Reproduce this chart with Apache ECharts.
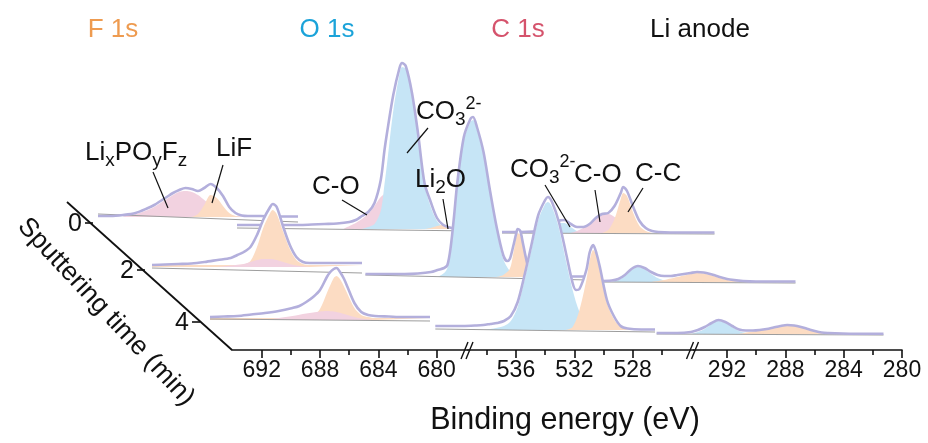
<!DOCTYPE html>
<html>
<head>
<meta charset="utf-8">
<script src="https://cdn.jsdelivr.net/npm/echarts@6/dist/echarts.min.js"></script>
<style>
  html, body { margin: 0; padding: 0; background: #ffffff; }
  #chart { width: 928px; height: 443px; }
</style>
</head>
<body>
<div id="chart"></div>
<script>
// ---------------------------------------------------------------
// XPS depth profile of a Li anode: F 1s, O 1s and C 1s spectra
// after 0, 2 and 4 min of Ar+ sputtering (intensity in a.u.,
// binding energy in eV). Each array holds [BE, intensity] pairs.
// ---------------------------------------------------------------

// ---- 0 min ----
const F0_total = [[694,1],[693,1],[692,2],[691,4],[690,9],[689.5,12],[689,16],[688.5,20],[688,24],[687.5,27],[687,29],[686.5,28],[686,26],[685.5,29],[685,33],[684.5,29],[684,21],[683.5,10],[683,4],[682.5,1.5],[682,1],[681,1],[680,0.5],[679,0.5],[678,0.5]];
const F0_LiPOF = [[692,0.5],[691,3],[690,7],[689.5,10],[689,14],[688.5,18],[688,22],[687.5,25],[687,26],[686.5,25],[686,22],[685.5,17],[685,12],[684.5,7],[684,4],[683.5,2],[683,1],[682,0]];
const F0_LiF = [[686.5,0],[686,3],[685.5,12],[685,22],[684.5,19],[684,11],[683.5,4],[683,1],[682.5,0]];
const F0_bg = [[694,3],[678,-5]];

const O0_total = [[545,4],[544,4],[543,4],[542,4],[541,4],[540,4],[539,4.5],[538,5],[537,5.5],[536,7],[535.5,9],[535,13],[534.5,17],[534,26],[533.5,49],[533.2,79],[533,96],[532.5,134],[532,161],[531.8,166],[531.5,163],[531,136],[530.5,94],[530,46],[529.5,27],[529,11],[528.5,4],[528,1.5],[527.5,0.5],[526,0.5]];
const O0_CO = [[536.5,0],[536,3],[535.5,6],[535,10],[534.5,15],[534,23],[533.5,32],[533,36],[532.5,32],[532,22],[531.5,12],[531,5],[530.5,1],[530,0]];
const O0_CO3 = [[535,0],[534.5,2],[534,5],[533.5,18],[533.2,45],[533,65],[532.5,118],[532,155],[531.8,162],[531.5,160],[531,134],[530.5,92],[530,44],[529.5,22],[529,8],[528.5,2],[528,0]];
const O0_Li2O = [[530,0],[529.5,1],[529,3],[528.5,4],[528,2.5],[527.5,1],[527,0]];
const O0_bg = [[545,1],[526,-2]];

const C0_total = [[294.5,1],[293,1],[292,1.5],[291,3],[290.5,7],[290,12],[289.5,13],[289,9],[288.5,6],[288,6],[287.5,9],[287,15],[286.5,19],[286,20],[285.5,27],[285,40],[284.8,46],[284.5,42],[284,26],[283.5,12],[283,5],[282.5,2],[282,1],[281,0.5],[277.5,0.5]];
const C0_CO3 = [[291.5,0],[291,2],[290.5,6],[290,10],[289.5,10],[289,6],[288.5,2],[288,0]];
const C0_CO = [[289,0],[288.5,2],[288,5],[287.5,9],[287,14],[286.5,18],[286,19],[285.5,16],[285,11],[284.5,6],[284,2.5],[283.5,1],[283,0]];
const C0_CC = [[286.5,0],[286,3],[285.5,14],[285,34],[284.8,40],[284.5,37],[284,20],[283.5,7],[283,2],[282.5,0]];
const C0_bg = [[294.5,0],[277.5,-1]];

// ---- 2 min ----
const F2_total = [[694,2],[693,2.5],[692,3],[691,3.5],[690,5],[689,7],[688,9],[687.5,12],[687,15],[686.5,20],[686,32],[685.5,48],[685,60],[684.8,63],[684.5,60],[684,40],[683.5,22],[683,10],[682.5,5],[682,4],[681,4],[680,4],[679,4],[678,4]];
const F2_LiF = [[694,2],[688,2],[687,2.5],[686.5,6],[686,20],[685.5,40],[685,54],[684.8,57],[684.5,53],[684,35],[683.5,18],[683,7],[682.5,3],[682,2],[678,2]];
const F2_LiPOF = [[689,0],[688,1.5],[687,3],[686.5,5],[686,7],[685.5,8],[685,8],[684.5,7],[684,5],[683.5,3],[683,1.5],[682,0]];
const F2_bg = [[694,-1],[678,-6]];

const O2_total = [[540,3],[539,3],[538,3],[537,3],[536,3.5],[535,5],[534.5,7],[534,9],[533.75,12],[533.5,30],[533.25,60],[533,94],[532.5,140],[532,158],[531.8,160],[531.5,150],[531,125],[530.5,86],[530,50],[529.5,22],[529.2,16],[529,18],[528.75,30],[528.5,44],[528.4,48],[528.2,46],[528,34],[527.75,18],[527.5,7],[527,2],[526.5,1],[526,0.5],[523,0.5]];
const O2_CO3 = [[534.5,0],[534,4],[533.75,9],[533.5,25],[533.25,55],[533,90],[532.5,137],[532,155],[531.8,157],[531.5,147],[531,122],[530.5,83],[530,47],[529.5,18],[529,6],[528.5,1.5],[528,0]];
const O2_Li2O = [[530,0],[529.5,2],[529,8],[528.75,22],[528.5,40],[528.4,44],[528.2,42],[528,31],[527.75,16],[527.5,6],[527,1.5],[526.5,0]];
const O2_bg = [[540,2],[523,-3]];

const C2_total = [[293,1],[292,1.5],[291.5,3],[291,7],[290.5,13],[290,16],[289.5,14],[289,10],[288.5,7],[288,6],[287.5,6],[287,7],[286.5,8],[286,9],[285.5,10],[285,9.5],[284.5,8],[284,6],[283.5,4],[283,2.5],[282,1],[281,0.5],[278,0.5]];
const C2_CO3 = [[292,0],[291.5,2],[291,6],[290.5,12],[290,15],[289.5,13],[289,8],[288.5,4],[288,1.5],[287.5,0]];
const C2_CC = [[289,0],[288,2],[287.5,3.5],[287,5],[286.5,6.5],[286,8],[285.5,9],[285,8.5],[284.5,7],[284,5],[283.5,3],[283,1.5],[282,0.3],[281.5,0]];
const C2_bg = [[293,0],[278,-1]];

// ---- 4 min ----
const F4_total = [[694,3],[693,3.5],[692,4],[691,5.5],[690,7],[689,9],[688,12],[687.5,14],[687,18],[686.5,23],[686,30],[685.5,43],[685.25,48],[685,51],[684.8,52],[684.5,47],[684.25,41],[684,33],[683.5,17],[683,8],[682.5,5],[682,4],[681,3.5],[680,3],[679,3],[678,3]];
const F4_LiF = [[694,2],[688,2],[687,2.5],[686.5,4],[686,11],[685.5,27],[685,42],[684.8,44],[684.5,40],[684,26],[683.5,12],[683,5],[682.5,3],[682,2],[678,2]];
const F4_LiPOF = [[690,0],[689,2],[688,4],[687,6.5],[686.5,7.5],[686,8.5],[685.5,9],[685,8.5],[684.5,7],[684,5],[683.5,3],[683,1.5],[682,0]];
const F4_bg = [[694,1],[678,-1]];

const O4_total = [[540,4],[539,4],[538,4],[537,4.5],[536.5,5],[536,6],[535.5,7],[535,9],[534.5,14],[534,28],[533.5,55],[533,85],[532.5,115],[532,130],[531.8,133],[531.5,128],[531,108],[530.5,78],[530,47],[529.75,40],[529.5,41],[529,60],[528.75,78],[528.5,85],[528.25,76],[528,62],[527.5,30],[527,14],[526.5,4],[526,1.5],[525,0.5],[524,0.5]];
const O4_CO3 = [[536.5,0],[536,1],[535,4],[534.5,9],[534,23],[533.5,50],[533,80],[532.5,110],[532,126],[531.8,128],[531.5,123],[531,102],[530.5,70],[530,40],[529.5,18],[529,7],[528.5,2],[528,0]];
const O4_Li2O = [[530.5,0],[530,3],[529.5,20],[529,50],[528.75,70],[528.5,80],[528.25,74],[528,58],[527.5,27],[527,11],[526.5,3],[526,0.5],[525.5,0]];
const O4_bg = [[540,1],[524,-2]];

const C4_total = [[294.5,1],[293,1],[292,2],[291.5,4],[291,7],[290.5,11],[290,14],[289.5,12],[289,8],[288.5,4.5],[288,3.5],[287.5,3.5],[287,4],[286.5,5],[286,6.5],[285.5,8],[285,9],[284.5,8.5],[284,7],[283.5,5],[283,3],[282.5,1.5],[282,1],[281,0.5],[280,0.3],[278,0.3]];
const C4_CO3 = [[292,0],[291.5,2],[291,5],[290.5,10],[290,13],[289.5,11],[289,7],[288.5,3],[288,1],[287.5,0]];
const C4_CC = [[288.5,0],[288,1.5],[287.5,2.5],[287,3.5],[286.5,4.5],[286,6],[285.5,7.5],[285,8.5],[284.5,8],[284,6.5],[283.5,4.5],[283,2.5],[282.5,1],[282,0.3],[281.5,0]];
const C4_bg = [[294.5,0],[278,-1]];

// Front (binding energy) axis ticks
const feLabels = [692, 688, 684, 680];
const feMinor  = [690, 686, 682];
const oeLabels = [536, 532, 528];
const oeMinor  = [538, 534, 530, 526];
const ceLabels = [292, 288, 284, 280];
const ceMinor  = [290, 286, 282];
const timeTicks = ['0', '2', '4'];

// ---------------------------------------------------------------
// Colours and layout
// ---------------------------------------------------------------
const COL = {
  pink:   '#f2d2e0',
  orange: '#fcdcc3',
  blue:   '#c6e5f6',
  trace:  '#b3afdc',
  base:   '#9d9d9d',
  ink:    '#111111'
};
const FONT = 'Arial, "Liberation Sans", Helvetica, sans-serif';

// pixel frame of each spectrum panel (perspective waterfall)
const panels = [
  { z: 0,  F: { x: [98, 298],    base: 217, e: [678, 694] },
           O: { x: [237, 474.5], base: 229, e: [526, 545] },
           C: { x: [502, 714.5], base: 233, e: [277.5, 294.5] } },
  { z: 10, F: { x: [152, 362],   base: 267, e: [678, 694] },
           O: { x: [365.4, 588.5], base: 277, e: [523, 540] },
           C: { x: [598.6, 795.5], base: 282, e: [278, 293] } },
  { z: 20, F: { x: [210, 430],   base: 320, e: [678, 694] },
           O: { x: [435.3, 655],  base: 330, e: [524, 540] },
           C: { x: [656.6, 883.5], base: 334, e: [278, 294.5] } }
];

const spectra = [
  { F: { total: F0_total, bg: F0_bg, comps: [[F0_LiPOF, COL.pink], [F0_LiF, COL.orange]] },
    O: { total: O0_total, bg: O0_bg, comps: [[O0_CO, COL.pink], [O0_CO3, COL.blue], [O0_Li2O, COL.orange]] },
    C: { total: C0_total, bg: C0_bg, comps: [[C0_CO3, COL.blue], [C0_CO, COL.pink], [C0_CC, COL.orange]] } },
  { F: { total: F2_total, bg: F2_bg, comps: [[F2_LiF, COL.orange], [F2_LiPOF, COL.pink]] },
    O: { total: O2_total, bg: O2_bg, comps: [[O2_CO3, COL.blue], [O2_Li2O, COL.orange]] },
    C: { total: C2_total, bg: C2_bg, comps: [[C2_CO3, COL.blue], [C2_CC, COL.orange]] } },
  { F: { total: F4_total, bg: F4_bg, comps: [[F4_LiF, COL.orange], [F4_LiPOF, COL.pink]] },
    O: { total: O4_total, bg: O4_bg, comps: [[O4_CO3, COL.blue], [O4_Li2O, COL.orange]] },
    C: { total: C4_total, bg: C4_bg, comps: [[C4_CO3, COL.blue], [C4_CC, COL.orange]] } }
];

const grids = [], xAxes = [], yAxes = [], series = [];
const Y_UP = 200, Y_DOWN = 20;

panels.forEach((row, r) => {
  ['F', 'O', 'C'].forEach(seg => {
    const p = row[seg];
    const gi = grids.length;
    grids.push({ left: p.x[0], top: p.base - Y_UP, width: p.x[1] - p.x[0], height: Y_UP + Y_DOWN });
    xAxes.push({ type: 'value', gridIndex: gi, min: p.e[0], max: p.e[1], inverse: true, show: false });
    yAxes.push({ type: 'value', gridIndex: gi, min: -Y_DOWN, max: Y_UP, show: false });
    const s = spectra[r][seg];
    const common = { type: 'line', xAxisIndex: gi, yAxisIndex: gi, symbol: 'none', silent: true, animation: false };
    // white body of the envelope hides the rows behind it
    series.push(Object.assign({}, common, {
      data: s.total, smooth: 0.3, z: row.z + 1,
      lineStyle: { width: 0 }, areaStyle: { color: '#ffffff', opacity: 1 }
    }));
    s.comps.forEach((c, k) => {
      series.push(Object.assign({}, common, {
        data: c[0], smooth: 0.3, z: row.z + 2 + k * 0.1,
        lineStyle: { width: 0 }, areaStyle: { color: c[1], opacity: 1 }
      }));
    });
    series.push(Object.assign({}, common, {
      data: s.bg, z: row.z + 3, lineStyle: { color: COL.base, width: 1.1 }
    }));
    series.push(Object.assign({}, common, {
      data: s.total, smooth: 0.3, z: row.z + 4,
      lineStyle: { color: COL.trace, width: 2.6 }
    }));
  });
});

// front binding-energy axis, broken in three parts
const AXIS_Y = 350;
const front = [
  { x: [232, 468],   e: [677.85, 694.04], labels: feLabels, minor: feMinor },
  { x: [468, 693.5], e: [523.83, 539.29], labels: oeLabels, minor: oeMinor },
  { x: [693.5, 902], e: [280, 294.30],    labels: ceLabels, minor: ceMinor }
];
front.forEach(f => {
  const gi = grids.length;
  grids.push({ left: f.x[0], top: AXIS_Y - 40, width: f.x[1] - f.x[0], height: 40 });
  yAxes.push({ type: 'value', gridIndex: gi, min: 0, max: 1, show: false });
  xAxes.push({
    type: 'value', gridIndex: gi, min: f.e[0], max: f.e[1], inverse: true, position: 'bottom',
    axisLine: { show: true, lineStyle: { color: COL.ink, width: 1.6 } },
    axisTick: { show: true, length: 8, customValues: f.labels, lineStyle: { color: COL.ink, width: 1.6 } },
    axisLabel: { show: true, customValues: f.labels, margin: 9, fontSize: 23, color: COL.ink, fontFamily: FONT },
    splitLine: { show: false }
  });
  xAxes.push({
    type: 'value', gridIndex: gi, min: f.e[0], max: f.e[1], inverse: true, position: 'bottom',
    axisLine: { show: false },
    axisTick: { show: true, length: 5, customValues: f.minor, lineStyle: { color: COL.ink, width: 1.6 } },
    axisLabel: { show: false }, splitLine: { show: false }
  });
});

// decorations: depth axis, break marks, titles, peak labels
const g = [];
const line = (x1, y1, x2, y2, w) => g.push({ type: 'line', shape: { x1, y1, x2, y2 }, style: { stroke: COL.ink, lineWidth: w || 1.2 }, z: 100 });
const text = (x, y, t, size, color, align, extra) => g.push(Object.assign({
  type: 'text', z: 100, x, y,
  style: { text: t, fill: color || COL.ink, font: `${size}px ${FONT}`, align: align || 'left', verticalAlign: 'middle' }
}, extra || {}));

// sputtering-time axis
line(67, 202, 232, 350, 1.8);
const tickPts = [[93, 223], [145, 270], [200, 322]];
tickPts.forEach((p, i) => {
  line(p[0] - 8, p[1], p[0], p[1], 1.6);
  text(p[0] - 11, p[1] + 1, timeTicks[i], 25, COL.ink, 'right');
});
text(106, 312, 'Sputtering time (min)', 26.5, COL.ink, 'center', { rotation: -0.82 });

// axis breaks
[468, 693.5].forEach(bx => {
  line(bx - 7, 359, bx, 342, 1.4);
  line(bx - 2, 359, bx + 5, 342, 1.4);
});
text(565, 421, 'Binding energy (eV)', 30.5, COL.ink, 'center');

// core-level headers
text(113, 30, 'F 1s', 26, '#ee9b50', 'center');
text(327, 30, 'O 1s', 26, '#1ba3d9', 'center');
text(518, 30, 'C 1s', 26, '#d5536c', 'center');
text(700, 30, 'Li anode', 26, '#111111', 'center');

// peak assignments
const rich = {
  n: { fontSize: 26, fontFamily: FONT, lineHeight: 34, verticalAlign: 'middle', fill: COL.ink },
  sb: { fontSize: 19, fontFamily: FONT, lineHeight: 19, verticalAlign: 'bottom', fill: COL.ink },
  sp: { fontSize: 18, fontFamily: FONT, lineHeight: 18, verticalAlign: 'top', fill: COL.ink }
};
const rtext = (x, y, t) => g.push({ type: 'text', z: 100, x, y,
  style: { text: t, rich, align: 'left', verticalAlign: 'middle', fill: COL.ink } });

rtext(85, 153, '{n|Li}{sb|x}{n|PO}{sb|y}{n|F}{sb|z}');
line(153, 172, 168, 208);
rtext(216, 149, '{n|LiF}');
line(223, 165, 212, 203);

rtext(312, 187, '{n|C-O}');
line(342, 200, 367, 215);
rtext(416, 112, '{n|CO}{sb|3}{sp|2-}');
line(428, 128, 407, 153);
rtext(415, 180, '{n|Li}{sb|2}{n|O}');
line(443, 199, 448, 229);

rtext(510, 170, '{n|CO}{sb|3}{sp|2-}');
line(545, 185, 570, 227);
rtext(574, 175, '{n|C-O}');
line(595, 190, 600, 222);
rtext(635, 174, '{n|C-C}');
line(643, 188, 628, 212);

const chart = echarts.init(document.getElementById('chart'), null, { renderer: 'canvas' });
chart.setOption({
  backgroundColor: '#ffffff',
  animation: false,
  grid: grids,
  xAxis: xAxes,
  yAxis: yAxes,
  series: series,
  graphic: g
});
</script>
</body>
</html>
